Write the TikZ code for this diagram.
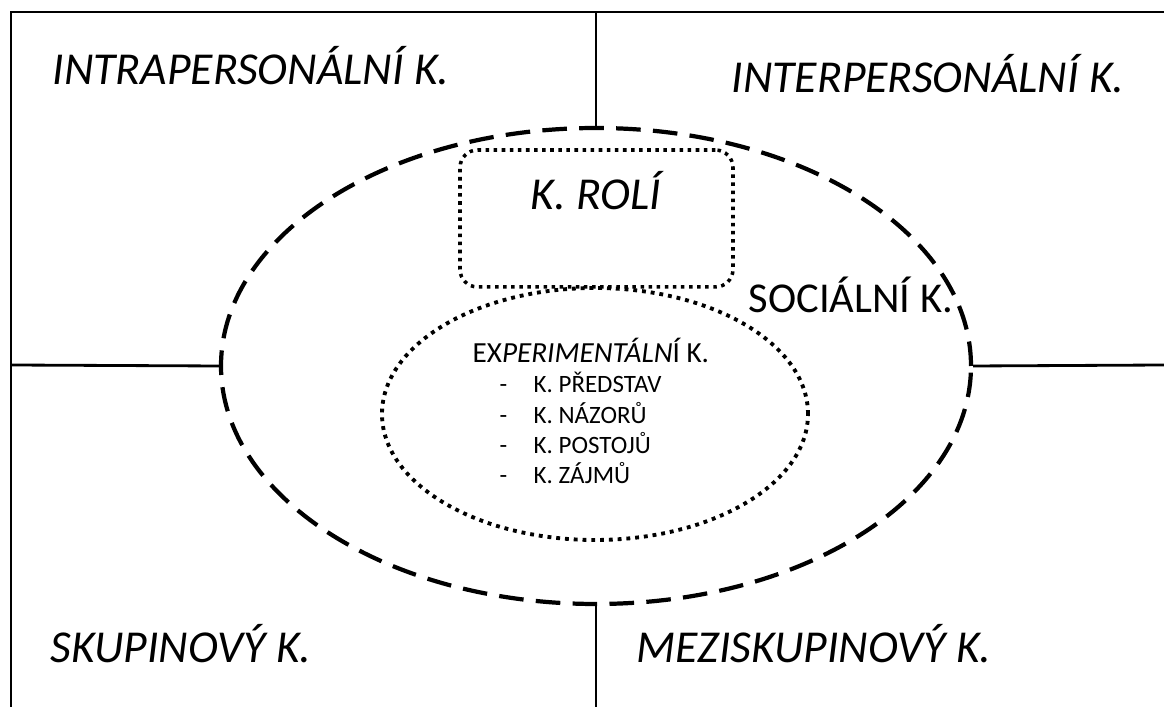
\documentclass[tikz,border=0pt]{standalone}
\usepackage{fontspec}
\setmainfont{Carlito}
\usetikzlibrary{shapes.geometric}

\begin{document}
\begin{tikzpicture}[x=0.1mm,y=-0.1mm,
  frame/.style={line width=0.8pt},
  corner/.style={font=\fontsize{13}{15}\selectfont\itshape, inner sep=0pt},
  small/.style={font=\fontsize{7.1}{8}\selectfont, inner sep=0pt}]
\useasboundingbox (0,0) rectangle (1164,707);
% outer frame
\coordinate (nw) at (11,12);
\coordinate (top) at (596,12);
\coordinate (bottom) at (596,707);
\coordinate (left) at (11,365);
\coordinate (right) at (1164,365);
\draw[frame] (11,707) -- (nw) -- (1164,12);
% ellipses and box
\node[draw, ellipse, line width=1.2pt, dash pattern=on 7pt off 3.5pt,
      minimum width=75mm, minimum height=47.6mm, inner sep=0pt] (social) at (596,366) {};
\node[draw, ellipse, line width=1.1pt, dash pattern=on 1.1pt off 1.4pt,
      minimum width=42.6mm, minimum height=25.2mm, inner sep=0pt] (exper) at (595,414) {};
\node[draw, rounded corners=5pt, line width=1pt, dash pattern=on 1pt off 1.3pt,
      minimum width=27.3mm, minimum height=13.7mm, inner sep=0pt] (roles) at (596.5,218.5) {};
\draw[frame] (social.north) -- (top);
\draw[frame] (social.south) -- (bottom);
\draw[frame] (social.west) -- (left);
\draw[frame] (social.east) -- (right);
% labels
\node[corner, anchor=base west] (intra) at (52,85) {INTRAPERSONÁLNÍ K.};
\node[corner, anchor=base west] (inter) at (731,93) {INTERPERSONÁLNÍ K.};
\node[corner, anchor=base west] (skup) at (50,663) {SKUPINOVÝ K.};
\node[corner, anchor=base west] (mezi) at (636,663) {MEZISKUPINOVÝ K.};
\node[corner, anchor=base] (rolelabel) at (596,210) {K. ROLÍ};
\node[font=\fontsize{12.1}{14}\selectfont, inner sep=0pt, anchor=base west] (soclabel) at (748,313) {SOCIÁLNÍ K.};
\node[font=\fontsize{8.3}{10}\selectfont, inner sep=0pt, anchor=base west] (exlabel) at (472,363)
  {EX\textit{PERIMENTÁLN}Í K.};
\node[small, anchor=base west] (d1) at (499,393) {-};
\node[small, anchor=base west] (i1) at (533,393) {K. PŘEDSTAV};
\node[small, anchor=base west] (d2) at (499,424) {-};
\node[small, anchor=base west] (i2) at (533,424) {K. NÁZORŮ};
\node[small, anchor=base west] (d3) at (499,454) {-};
\node[small, anchor=base west] (i3) at (533,454) {K. POSTOJŮ};
\node[small, anchor=base west] (d4) at (499,484) {-};
\node[small, anchor=base west] (i4) at (533,484) {K. ZÁJMŮ};
\end{tikzpicture}
\end{document}
